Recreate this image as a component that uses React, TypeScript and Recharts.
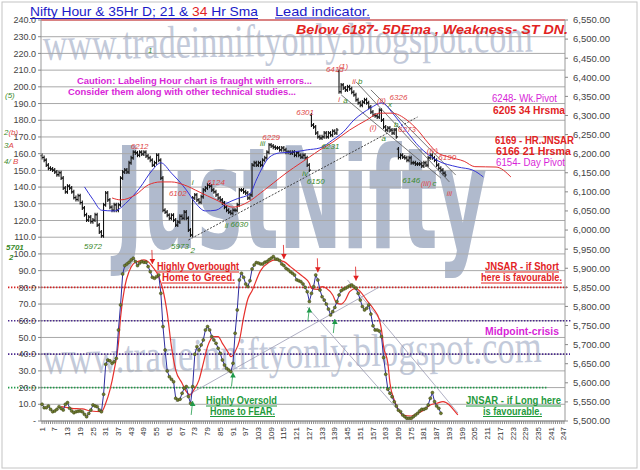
import {
  ComposedChart,
  Bar,
  Line,
  XAxis,
  YAxis,
  CartesianGrid,
  ReferenceLine,
  ReferenceDot,
} from 'recharts';

const RED = '#e2231f';
const GREEN = '#1f9a3c';
const MAGENTA = '#d81fd8';
const NOTE_RED = '#e04848';
const NOTE_GREEN = '#3a8a2a';

// hourly closes, bar 1 .. 191
const closes = [
  6190, 6183, 6170, 6162, 6160, 6157, 6152, 6145, 6150, 6136,
  6110, 6100, 6115, 6110, 6100, 6085, 6080, 6090, 6072, 6058,
  6040, 6026, 6034, 6022, 6026, 6040, 6013, 5995, 5985, 6066,
  6097, 6079, 6060, 6052, 6066, 6052, 6066, 6136, 6152, 6157,
  6152, 6176, 6189, 6204, 6202, 6196, 6204, 6199, 6204, 6194,
  6189, 6183, 6170, 6176, 6196, 6183, 6136, 6052, 6047, 6039,
  6031, 6039, 6026, 6013, 6021, 6036, 6031, 6047, 6031, 6000,
  5987, 6084, 6092, 6079, 6073, 6087, 6105, 6110, 6118, 6115,
  6105, 6100, 6092, 6084, 6079, 6071, 6060, 6052, 6047, 6044,
  6052, 6052, 6066, 6105, 6105, 6100, 6097, 6084, 6092, 6170,
  6176, 6170, 6176, 6170, 6183, 6189, 6204, 6223, 6220, 6217,
  6215, 6215, 6210, 6215, 6210, 6204, 6204, 6202, 6204, 6196,
  6202, 6196, 6191, 6196, 6189, 6170, 6157, 6275, 6270, 6254,
  6244, 6241, 6244, 6254, 6244, 6254, 6249, 6259, 6254, 6262,
  6362, 6380, 6372, 6367, 6375, 6370, 6361, 6354, 6341, 6333,
  6327, 6335, 6341, 6333, 6322, 6309, 6301, 6299, 6296, 6314,
  6288, 6270, 6262, 6267, 6262, 6254, 6262, 6244, 6190, 6196,
  6191, 6189, 6183, 6189, 6176, 6176, 6173, 6173, 6173, 6168,
  6176, 6170, 6189, 6196, 6189, 6183, 6170, 6162, 6157, 6149,
  6144,
];

// bars whose open is not the previous close (session gaps)
const gapOpens: [number, number][] = [
  [1, 6195],
  [128, 6301],
  [141, 6415],
  [169, 6212],
];

const sma21: [number, number][] = [
  [21, 6113], [25, 6080], [29, 6052], [35, 6050], [41, 6073], [47, 6110],
  [53, 6157], [57, 6176], [62, 6149], [69, 6105], [73, 6073], [78, 6050],
  [83, 6052], [88, 6070], [93, 6082], [99, 6095], [102, 6131], [105, 6165],
  [108, 6190], [113, 6202], [119, 6204], [126, 6210], [132, 6215], [138, 6236],
  [143, 6257], [148, 6288], [152, 6306], [156, 6320], [161, 6333], [167, 6301],
  [173, 6257], [179, 6217], [187, 6183], [197, 6165], [204, 6157], [209, 6139],
];

const sma34: [number, number][] = [
  [34, 6084], [38, 6079], [45, 6092], [51, 6118], [57, 6126], [62, 6126],
  [68, 6118], [75, 6100], [83, 6079], [91, 6060], [98, 6073], [104, 6097],
  [110, 6123], [116, 6149], [123, 6176], [127, 6191], [132, 6210], [138, 6230],
  [146, 6262], [154, 6288], [160, 6306], [166, 6306], [173, 6288], [178, 6262],
  [183, 6228], [187, 6204], [193, 6191], [200, 6180], [205, 6166], [215, 6165],
  [222, 6139],
];

// lead oscillator, bar 1 .. 189
const oscValues = [
  10, 8, 8, 9, 7, 5.6, 6, 7, 8.6, 7.5,
  6.6, 10, 11, 7.6, 6, 5, 5.6, 5.8, 6, 5.5,
  4, 2.6, 4.5, 6.6, 9.6, 9, 8.6, 6.6, 5.6, 16,
  34, 36.5, 36, 34.5, 35.5, 37.5, 54.5, 69.5, 88, 93,
  94, 95, 96.4, 97.4, 95.4, 93, 94.5, 95.4, 95, 95,
  92.4, 89.4, 86, 85.4, 86.4, 87.4, 76.4, 56.5, 42.5, 30,
  26.5, 25, 23.5, 13.6, 12.6, 13, 16.6, 19.6, 20.6, 14.6,
  10.6, 20.6, 40, 44.5, 42.5, 45.5, 48.5, 54.5, 56.5, 54.5,
  50.5, 48.5, 46.5, 43.5, 40.5, 36.5, 33.5, 31.5, 30.5, 29.5,
  34.5, 52.5, 66.5, 84.4, 88.4, 86, 82, 80.5, 84, 91,
  93.4, 94.8, 94.5, 94, 94, 95, 95.4, 96.5, 97.4, 98.4,
  97, 96.8, 96, 94, 93, 91.4, 90.5, 89.4, 88.5, 87.4,
  84.5, 84, 83.4, 82, 80, 77.4, 71.5, 76.4, 80.4, 87.4,
  84.4, 78.4, 74.4, 72.4, 70, 67, 63.5, 65.5, 68, 71.5,
  75.4, 78, 78.8, 79.4, 80.2, 81, 81.4, 80.4, 79.4, 76.4,
  72.4, 68.5, 66.5, 67.5, 69.5, 64, 57, 54.5, 54.5, 53.8,
  50.5, 38, 28, 19, 16.6, 14.5, 11.5, 9, 6.5, 5.6,
  3.6, 2.6, 1.6, 1.6, 1.6, 2.6, 3.6, 4.6, 6, 7,
  7, 7.6, 9.6, 13.6, 17, 11.6, 9, 7.6, 4.6,
];

const oscSignal: [number, number][] = [
  [10, 8.6], [15, 7.6], [20, 7.2], [24, 6], [29, 5.6], [31, 10.6], [33, 18.6],
  [35, 30.5], [37, 46.5], [38, 62], [40, 80.4], [42, 89.4], [44, 94], [46, 95.4],
  [49, 96.4], [51, 95.4], [53, 92.4], [56, 86.4], [58, 78.4], [60, 64.5],
  [62, 44.5], [64, 30.5], [67, 22.6], [69, 17.6], [71, 15.6], [72, 17.6],
  [75, 24.6], [77, 34.5], [79, 44.5], [82, 50.5], [84, 50.5], [86, 46.5],
  [89, 40.5], [90, 38.5], [92, 41.5], [94, 48], [96, 62], [98, 73], [100, 78],
  [104, 90], [108, 95], [111, 96.4], [115, 95.4], [118, 92.4], [121, 89.4],
  [124, 86.4], [127, 82.4], [128, 79.4], [131, 78.8], [133, 80.4], [135, 79.4],
  [138, 75.4], [140, 70.5], [142, 70], [144, 72.4], [146, 77.4], [149, 79.4],
  [151, 77.4], [154, 72.4], [157, 67.5], [160, 60.5], [161, 54.5], [162, 44.5],
  [164, 34.5], [165, 22.6], [167, 12.6], [169, 6.6], [171, 3.6], [175, 3],
  [178, 4.6], [181, 6.6], [184, 9.6], [187, 10.6], [190, 11.6], [193, 9.6],
  [195, 6.6], [197, 3.6],
];

const oscTicks = [
  0, 10, 20, 30, 40, 50, 60, 70, 80, 90, 100, 110, 120, 130, 140, 150, 160,
  170, 180, 190, 200, 210, 220, 230, 240,
];
const priceTicks = [
  5500, 5550, 5600, 5650, 5700, 5750, 5800, 5850, 5900, 5950, 6000, 6050,
  6100, 6150, 6200, 6250, 6300, 6350, 6400, 6450, 6500, 6550,
];

// [bar, price, text, colour]
const priceNotes: [number, number, string, string][] = [
  [25, 5958, '5972', NOTE_GREEN],
  [66, 5958, '5973', NOTE_GREEN],
  [72, 5947, '2', NOTE_GREEN],
  [52, 6471, '1', NOTE_GREEN],
  [47, 6220, '6212', NOTE_RED],
  [65, 6097, '6102', NOTE_RED],
  [72, 6125, 'i', NOTE_GREEN],
  [83, 6126, '6124', NOTE_RED],
  [88, 6014, 'ii', NOTE_GREEN],
  [94, 6016, '6030', NOTE_GREEN],
  [105, 6228, 'iii', NOTE_GREEN],
  [109, 6244, '6229', NOTE_RED],
  [125, 6309, '6301', NOTE_RED],
  [125, 6148, 'iv', NOTE_GREEN],
  [130, 6128, '6150', NOTE_GREEN],
  [137, 6220, '6231', NOTE_GREEN],
  [139, 6422, '6415', NOTE_RED],
  [143, 6430, '(1)', NOTE_RED],
  [141, 6343, 'i', NOTE_RED],
  [144, 6340, 'a', NOTE_GREEN],
  [148, 6390, 'ii', NOTE_RED],
  [151, 6390, 'b', NOTE_GREEN],
  [157, 6270, '(i)', NOTE_RED],
  [161, 6340, '(ii)', NOTE_RED],
  [165, 6330, 'x', NOTE_GREEN],
  [169, 6348, '6326', NOTE_RED],
  [162, 6240, 'a', NOTE_GREEN],
  [168, 6277, 'b', NOTE_GREEN],
  [173, 6265, '6273', NOTE_RED],
  [175, 6131, '6146', NOTE_GREEN],
  [182, 6123, '(iii)', NOTE_RED],
  [186, 6123, 'c', NOTE_GREEN],
  [185, 6210, '(iv)', NOTE_RED],
  [192, 6190, '6190', NOTE_RED],
  [193, 6097, 'iii', NOTE_RED],
];

const priceTrend: [number, number, number, number][] = [
  [70, 5974, 178, 6296],
];
const priceChannel: [number, number, number, number][] = [
  [142, 6354, 189, 6136],
  [149, 6388, 193, 6126],
  [156, 6367, 196, 6144],
];
const oscTrend: [number, number, number, number][] = [
  [64, 11.4, 160, 80.2],
  [126, 68.2, 173, 0.5],
  [145, 84.4, 197, 4.8],
];

const downArrows: [number, number][] = [[53, 94], [115, 97], [131, 89], [149, 84]];
const upArrows: [number, number][] = [[72, 12], [91, 29], [127, 68], [139, 61]];

// [level, colour, extra px left, extra px right]
const oscLevels: [number, string, number, number][] = [
  [80, '#d42222', 33, 2],
  [60, '#4b2a8e', 33, 7],
  [40, '#4b2a8e', 33, 5],
  [20, '#22994a', 33, -17],
];

const gapMap = new Map(gapOpens);
const sma21Map = new Map(sma21);
const sma34Map = new Map(sma34);
const signalMap = new Map(oscSignal);

const rows = Array.from({ length: 247 }, (_, k) => {
  const i = k + 1;
  const close = k < closes.length ? closes[k] : null;
  const open = close == null ? null : gapMap.get(i) ?? closes[k - 1];
  return {
    i,
    close,
    open,
    sma21: sma21Map.get(i) ?? null,
    sma34: sma34Map.get(i) ?? null,
    osc: k < oscValues.length ? oscValues[k] : null,
    signal: signalMap.get(i) ?? null,
  };
});

function HourBar(props: any) {
  const { x, y, width, height, payload } = props;
  if (!payload || payload.close == null || !Number.isFinite(y)) return <g />;
  const cx = x + width / 2;
  const top = Math.min(y, y + height);
  const bot = Math.max(y, y + height);
  const openY = payload.open >= payload.close ? top : bot;
  const closeY = payload.open >= payload.close ? bot : top;
  return (
    <g stroke="#111" strokeWidth={1.1}>
      <line x1={cx} x2={cx} y1={top - 2} y2={bot + 2} />
      <line x1={cx - 1.6} x2={cx} y1={openY} y2={openY} />
      <line x1={cx} x2={cx + 1.6} y1={closeY} y2={closeY} />
    </g>
  );
}

function OscDot(p: any) {
  if (p.value == null || p.cy == null) return <g key={`o${p.index}`} />;
  return (
    <circle
      key={`o${p.index}`}
      cx={p.cx}
      cy={p.cy}
      r={1.5}
      fill="#6e7b2c"
      stroke="#3a4318"
      strokeWidth={0.5}
    />
  );
}

function XTick({ x, y, payload }: any) {
  if ((payload.value - 1) % 6 !== 0) return <g />;
  return (
    <text
      x={x}
      y={y + 1}
      transform={`rotate(-90 ${x} ${y + 1})`}
      textAnchor="end"
      dy="0.32em"
      fontSize={8}
      fill="#333"
      fontFamily="Liberation Sans, Arial, sans-serif"
    >
      {payload.value}
    </text>
  );
}

const noteShape = (text: string, color: string) => (p: any) => (
  <text
    x={p.cx}
    y={p.cy}
    dy="0.35em"
    textAnchor="middle"
    fontSize={8}
    fontStyle="italic"
    fill={color}
    fontFamily="Liberation Sans, Arial, sans-serif"
  >
    {text}
  </text>
);

const arrowShape = (down: boolean, color: string) => (p: any) => {
  const { cx, cy } = p;
  const tail = down ? cy - 14 : cy + 14;
  const head = down
    ? `${cx - 2.8},${cy - 5} ${cx + 2.8},${cy - 5} ${cx},${cy}`
    : `${cx - 2.8},${cy + 5} ${cx + 2.8},${cy + 5} ${cx},${cy}`;
  return (
    <g>
      <line x1={cx - (down ? 0.5 : 1.5)} y1={tail} x2={cx} y2={cy} stroke={color} strokeWidth={0.8} />
      <polygon points={head} fill={color} />
    </g>
  );
};

const levelShape = (color: string, left: number, right: number) => (p: any) => (
  <line
    x1={p.x1 - left}
    x2={p.x2 + right}
    y1={p.y1}
    y2={p.y2}
    stroke={color}
    strokeWidth={1.6}
    strokeDasharray="1.4 1.6"
  />
);

const sans = 'Liberation Sans, Arial, sans-serif';

function Background() {
  return (
    <svg width={640} height={470} style={{ position: 'absolute', left: 0, top: 0 }}>
      <rect x={0} y={0} width={640} height={470} fill="#fff" />
      <rect x={2} y={2} width={635} height={466} fill="none" stroke="#c4c4c4" />
      <text
        x={43}
        y={60}
        transform="rotate(-1 43 60)"
        fontSize={46}
        fontFamily="Liberation Serif, DejaVu Serif, serif"
        fill="#c3cada"
        textLength={490}
        lengthAdjust="spacingAndGlyphs"
      >
        www.tradeinniftyonly.blogspot.com
      </text>
      <text
        x={43}
        y={374}
        transform="rotate(-1.4 43 374)"
        fontSize={46}
        fontFamily="Liberation Serif, DejaVu Serif, serif"
        fill="#c3cada"
        textLength={499}
        lengthAdjust="spacingAndGlyphs"
      >
        www.tradeinniftyonly.blogspot.com
      </text>
      <text
        x={115}
        y={248}
        fontSize={140}
        fontWeight="bold"
        fontFamily="Liberation Sans Narrow, DejaVu Sans Condensed, sans-serif"
        fill="#b0bacd"
        textLength={372}
        lengthAdjust="spacingAndGlyphs"
      >
        JustNifty
      </text>
    </svg>
  );
}

function Foreground() {
  const t = (
    x: number,
    y: number,
    s: string,
    color: string,
    size: number,
    len: number,
    bold = true,
    underline = false,
  ) => (
    <g>
      <text
        x={x}
        y={y}
        fill={color}
        fontSize={size}
        fontWeight={bold ? 'bold' : 'normal'}
        fontFamily={sans}
        textLength={len}
        lengthAdjust="spacingAndGlyphs"
      >
        {s}
      </text>
      {underline && <line x1={x} x2={x + len} y1={y + 2} y2={y + 2} stroke={color} strokeWidth={1} />}
    </g>
  );
  return (
    <svg
      width={640}
      height={470}
      style={{ position: 'absolute', left: 0, top: 0, pointerEvents: 'none' }}
    >
      <text x={30} y={16} fontSize={13} fill="#1a1ac8" fontFamily={sans} textLength={228} lengthAdjust="spacingAndGlyphs">
        Nifty Hour &amp; 35Hr D; 21 &amp; <tspan fill={RED}>34</tspan> Hr Sma
      </text>
      <line x1={30} x2={258} y1={18.5} y2={18.5} stroke="#1a1ac8" />
      {t(275, 16, 'Lead indicator.', '#1a1ac8', 13, 95, false, true)}
      <text
        x={296}
        y={34}
        fontSize={13}
        fontWeight="bold"
        fontStyle="italic"
        fill={RED}
        fontFamily={sans}
        textLength={272}
        lengthAdjust="spacingAndGlyphs"
      >
        Below 6187-  5DEma ,  Weakness- ST DN.
      </text>
      {t(77, 84, 'Caution: Labeling Hour chart is fraught with errors...', MAGENTA, 9.5, 235)}
      {t(68, 95, 'Consider them along with other technical studies...', MAGENTA, 9.5, 228)}

      {t(492, 102, '6248- Wk.Pivot', MAGENTA, 10, 65, false)}
      {t(493, 114, '6205 34 Hrsma', RED, 10.5, 72)}
      {t(495, 144, '6169 - HR.JNSAR', RED, 10.5, 79)}
      {t(496, 155, '6166  21 Hrsma', RED, 10.5, 75)}
      {t(496, 166, '6154- Day Pivot', MAGENTA, 10, 69, false)}

      {t(157, 270, 'Highly Overbought', RED, 10, 82, true, true)}
      {t(162, 281, 'Home to Greed.', RED, 10, 73, true, true)}
      {t(206, 404, 'Highly Oversold', GREEN, 10, 71, true, true)}
      {t(210, 414.5, 'Home to FEAR.', GREEN, 10, 65, true, true)}
      {t(485, 270, 'JNSAR - if Short', RED, 10, 74, true, true)}
      {t(481, 281, 'here is favourable.', RED, 10, 81, true, true)}
      {t(485, 334.5, 'Midpoint-crisis', MAGENTA, 10.5, 74)}
      {t(466, 404, 'JNSAR - if Long here', GREEN, 10, 95, true, true)}
      {t(483, 414.5, 'is favourable.', GREEN, 10, 59, true, true)}

      <g fontSize={8} fontStyle="italic" fontFamily={sans}>
        <text x={5} y={98} fill={NOTE_GREEN}>(5)</text>
        <text x={4} y={135}>
          <tspan fill={NOTE_GREEN}>2</tspan>
          <tspan fill={NOTE_RED}>(b)</tspan>
        </text>
        <text x={4} y={148}>
          <tspan fill={NOTE_GREEN}>3</tspan>
          <tspan fill={NOTE_RED}>A</tspan>
        </text>
        <text x={4} y={164}>
          <tspan fill={NOTE_GREEN}>4/ </tspan>
          <tspan fill={NOTE_RED}>B</tspan>
        </text>
        <text x={6} y={250} fill={NOTE_GREEN} fontWeight="bold">5701</text>
        <text x={9} y={260} fill={NOTE_GREEN} fontWeight="bold">2</text>
      </g>
    </svg>
  );
}

export default function App() {
  return (
    <div style={{ position: 'absolute', left: 0, top: 0, width: 640, height: 470 }}>
      <Background />
      <div style={{ position: 'absolute', left: 0, top: 0 }}>
        <ComposedChart
          width={640}
          height={470}
          data={rows}
          margin={{ top: 20, right: 5, bottom: 19, left: 0 }}
          barCategoryGap={0}
        >
          <CartesianGrid yAxisId="osc" vertical={false} stroke="#a9a9a9" />
          <XAxis
            dataKey="i"
            interval={0}
            tick={XTick as never}
            tickSize={3}
            tickLine={{ stroke: '#888' }}
            axisLine={{ stroke: '#888' }}
            height={30}
          />
          <YAxis
            yAxisId="osc"
            domain={[0, 240]}
            ticks={oscTicks}
            interval={0}
            width={41}
            tickSize={3}
            tickMargin={2}
            tick={{ fontSize: 9, fill: '#444', fontFamily: sans }}
            tickLine={{ stroke: '#888' }}
            axisLine={{ stroke: '#999' }}
            tickFormatter={(v: number) => (v === 0 ? '-' : v.toFixed(1))}
          />
          <YAxis
            yAxisId="price"
            orientation="right"
            domain={[5500, 6550]}
            ticks={priceTicks}
            interval={0}
            width={70}
            tickSize={3}
            tickMargin={5}
            tick={{ fontSize: 9.5, fill: '#444', fontFamily: sans }}
            tickLine={{ stroke: '#888' }}
            axisLine={{ stroke: '#999' }}
            tickFormatter={(v: number) =>
              v.toLocaleString('en-US', { minimumFractionDigits: 2, maximumFractionDigits: 2 })
            }
          />

          <ReferenceLine yAxisId="osc" y={240} stroke="#e03030" strokeWidth={1} />
          {oscLevels.map(([lvl, c, l, r]) => (
            <ReferenceLine key={lvl} yAxisId="osc" y={lvl} shape={levelShape(c, l, r)} />
          ))}
          {priceTrend.map(([x1, y1, x2, y2], k) => (
            <ReferenceLine
              key={`pt${k}`}
              yAxisId="price"
              segment={[{ x: x1, y: y1 }, { x: x2, y: y2 }]}
              stroke="#333"
              strokeWidth={0.9}
              strokeDasharray="2 1.5"
            />
          ))}
          {priceChannel.map(([x1, y1, x2, y2], k) => (
            <ReferenceLine
              key={`pc${k}`}
              yAxisId="price"
              segment={[{ x: x1, y: y1 }, { x: x2, y: y2 }]}
              stroke="#555"
              strokeWidth={0.8}
            />
          ))}
          {oscTrend.map(([x1, y1, x2, y2], k) => (
            <ReferenceLine
              key={`ot${k}`}
              yAxisId="osc"
              segment={[{ x: x1, y: y1 }, { x: x2, y: y2 }]}
              stroke="#9a9ab4"
              strokeWidth={0.8}
            />
          ))}

          <Bar
            yAxisId="price"
            dataKey={(d: any) =>
              d.close == null ? null : [Math.min(d.open, d.close), Math.max(d.open, d.close)]
            }
            shape={HourBar as never}
            isAnimationActive={false}
          />
          <Line
            yAxisId="price"
            dataKey="sma21"
            type="monotone"
            stroke="#3535d6"
            strokeWidth={1}
            dot={false}
            activeDot={false}
            connectNulls
            isAnimationActive={false}
          />
          <Line
            yAxisId="price"
            dataKey="sma34"
            type="monotone"
            stroke="#e23030"
            strokeWidth={1}
            dot={false}
            activeDot={false}
            connectNulls
            isAnimationActive={false}
          />
          <Line
            yAxisId="osc"
            dataKey="signal"
            type="monotone"
            stroke="#e6302c"
            strokeWidth={1.2}
            dot={false}
            activeDot={false}
            connectNulls
            isAnimationActive={false}
          />
          <Line
            yAxisId="osc"
            dataKey="osc"
            type="linear"
            stroke="#2d2d9e"
            strokeWidth={1}
            dot={OscDot as never}
            activeDot={false}
            isAnimationActive={false}
          />

          {priceNotes.map(([i, v, s, c], k) => (
            <ReferenceDot key={`n${k}`} yAxisId="price" x={i} y={v} r={0} shape={noteShape(s, c)} />
          ))}
          {downArrows.map(([i, v], k) => (
            <ReferenceDot key={`da${k}`} yAxisId="osc" x={i} y={v} r={0} shape={arrowShape(true, '#e02020')} />
          ))}
          {upArrows.map(([i, v], k) => (
            <ReferenceDot key={`ua${k}`} yAxisId="osc" x={i} y={v} r={0} shape={arrowShape(false, '#1f9a4a')} />
          ))}
        </ComposedChart>
      </div>
      <Foreground />
    </div>
  );
}
